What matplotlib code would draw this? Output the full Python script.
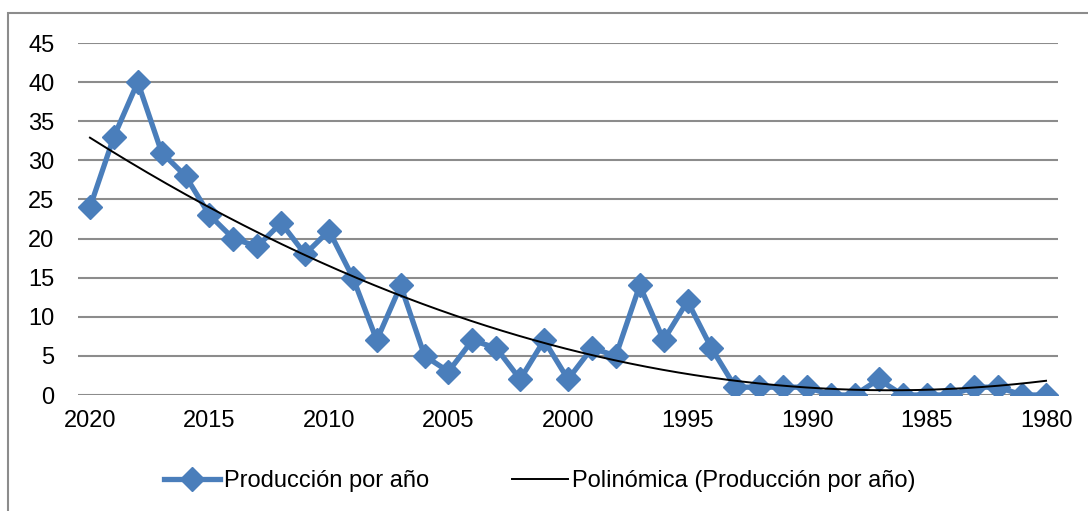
import numpy as np
import matplotlib.pyplot as plt
from matplotlib.patches import Rectangle
from matplotlib.lines import Line2D

plt.rcParams["font.family"] = ["Liberation Sans", "DejaVu Sans"]

# years shown right-to-left from 2020 down to 1980
years = list(range(2020, 1979, -1))
produccion = [24, 33, 40, 31, 28, 23, 20, 19, 22, 18,
              21, 15, 7, 14, 5, 3, 7, 6, 2, 7,
              2, 6, 5, 14, 7, 12, 6, 1, 1, 1,
              1, 0, 0, 2, 0, 0, 0, 1, 1, 0, 0]
tick_years = [2020, 2015, 2010, 2005, 2000, 1995, 1990, 1985, 1980]

BLUE = "#4A7EBB"
FS = 17

# polynomial (order 2) trend line, like the spreadsheet one
x = np.arange(len(years))
coef = np.polyfit(x + 1, produccion, 2)
xs = np.linspace(0, len(years) - 1, 300)
trend = np.polyval(coef, xs + 1)

fig = plt.figure(figsize=(10.88, 5.11), dpi=100)
ax = fig.add_axes([78 / 1088, 1 - 395 / 511, (1058 - 78) / 1088, (395 - 43) / 511])

# outer chart frame
fig.patches.append(Rectangle((8 / 1088, -0.1), 1.2, 1 - 13 / 511 + 0.1,
                             transform=fig.transFigure, fill=False,
                             edgecolor="#8c8c8c", linewidth=1.5))

for v in range(0, 46, 5):
    ax.axhline(v, color="#8c8c8c", linewidth=1.5, zorder=0)

ax.plot(x, produccion, color=BLUE, linewidth=3.8, marker="D", markersize=12,
        markeredgecolor=BLUE, markerfacecolor=BLUE, zorder=2)
ax.plot(xs, trend, color="black", linewidth=1.4, zorder=3)

ax.set_xlim(-0.5, len(years) - 0.5)
ax.set_ylim(0, 45)
ax.set_yticks(range(0, 46, 5))
ax.set_xticks([years.index(t) for t in tick_years])
ax.set_xticklabels([str(t) for t in tick_years])
ax.tick_params(axis="both", length=0, labelsize=FS)
ax.tick_params(axis="y", pad=17)
ax.tick_params(axis="x", pad=11)
for s in ax.spines.values():
    s.set_visible(False)

handles = [
    Line2D([], [], color=BLUE, linewidth=3.8, marker="D", markersize=12),
    Line2D([], [], color="black", linewidth=1.4),
]
fig.legend(handles, ["Producción por año", "Polinómica (Producción por año)"],
           loc="center", bbox_to_anchor=(540 / 1088, 1 - 481 / 511), ncol=2,
           frameon=False, fontsize=FS, handlelength=2.35, columnspacing=3.5,
           handletextpad=0.2)

fig.savefig("out.png", dpi=100)
